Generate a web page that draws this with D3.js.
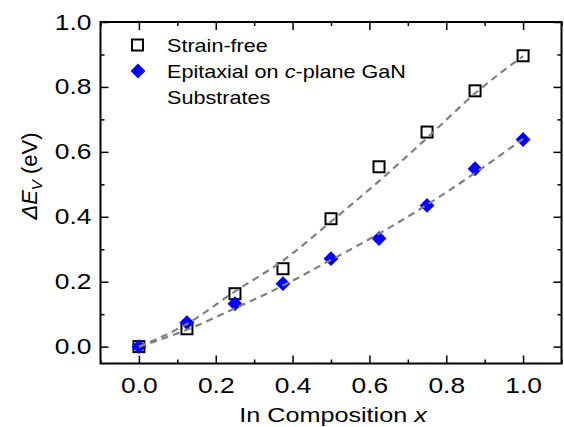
<!DOCTYPE html>
<html>
<head>
<meta charset="utf-8">
<script src="https://cdn.jsdelivr.net/npm/d3@7"></script>
<style>
  body { margin: 0; background: #fff; }
  text { font-family: "Liberation Sans", Arial, sans-serif; fill: #000; }
</style>
</head>
<body>
<div id="chart"></div>
<script>
// In composition points
var composition = [0, 0.125, 0.25, 0.375, 0.5, 0.625, 0.75, 0.875, 1.0];
var strainFree = [0.0, 0.055, 0.163, 0.24, 0.394, 0.554, 0.661, 0.788, 0.896];
var epitaxial = [0.0, 0.074, 0.132, 0.194, 0.271, 0.333, 0.435, 0.548, 0.638];
// dashed fit curves
var fitStrainFree = [0.0, 0.07, 0.17, 0.265, 0.385, 0.51, 0.643, 0.78, 0.895];
var fitEpitaxial = [0.0, 0.052, 0.118, 0.188, 0.267, 0.348, 0.437, 0.535, 0.64];
var xTicks = [0, 0.2, 0.4, 0.6, 0.8, 1.0];
var xMinor = [-0.1, 0.1, 0.3, 0.5, 0.7, 0.9, 1.1];
var yTicks = [0, 0.2, 0.4, 0.6, 0.8, 1.0];
var yMinor = [0.1, 0.3, 0.5, 0.7, 0.9];

var W = 564, H = 427;
var margin = {top: 22, right: 2.5, bottom: 63.5, left: 100.5},
    width = W - margin.left - margin.right,
    height = H - margin.top - margin.bottom;
var stretch = 1.2; // text in the picture is wider than it is tall

var svg = d3.select("#chart")
    .append("svg")
    .attr("width", W)
    .attr("height", H)
    .append("g")
    .attr("transform", "translate(" + margin.left + "," + margin.top + ")");

var x = d3.scaleLinear().domain([-0.1, 1.1]).range([0, width]);
var y = d3.scaleLinear().domain([-0.052, 1.0]).range([height, 0]);

function styleAxis(g) {
  g.select(".domain").remove();
  g.selectAll("line").attr("stroke", "#000").attr("stroke-width", 1.5);
}

// bottom axis with labels
svg.append("g")
    .attr("transform", "translate(0," + height + ")")
    .call(d3.axisBottom(x).tickValues(xTicks).tickSize(-8).tickPadding(14).tickFormat(d3.format(".1f")))
    .call(styleAxis)
    .call(g => g.selectAll("text")
        .attr("font-size", 22)
        .attr("font-family", "Liberation Sans, Arial, sans-serif")
        .attr("transform", "scale(" + stretch + ",1)"));
svg.append("g")
    .attr("transform", "translate(0," + height + ")")
    .call(d3.axisBottom(x).tickValues(xMinor).tickSize(-4).tickFormat(""))
    .call(styleAxis);

// top axis, ticks only
svg.append("g")
    .call(d3.axisTop(x).tickValues(xTicks).tickSize(-8).tickFormat(""))
    .call(styleAxis);
svg.append("g")
    .call(d3.axisTop(x).tickValues(xMinor).tickSize(-4).tickFormat(""))
    .call(styleAxis);

// left axis with labels
svg.append("g")
    .call(d3.axisLeft(y).tickValues(yTicks).tickSize(-8).tickFormat(d3.format(".1f")))
    .call(styleAxis)
    .call(g => g.selectAll("text")
        .attr("font-size", 22)
        .attr("font-family", "Liberation Sans, Arial, sans-serif")
        .attr("x", -9 / stretch)
        .attr("transform", "scale(" + stretch + ",1)"));
svg.append("g")
    .call(d3.axisLeft(y).tickValues(yMinor).tickSize(-4).tickFormat(""))
    .call(styleAxis);

// right axis, ticks only
svg.append("g")
    .attr("transform", "translate(" + width + ",0)")
    .call(d3.axisRight(y).tickValues(yTicks).tickSize(-8).tickFormat(""))
    .call(styleAxis);
svg.append("g")
    .attr("transform", "translate(" + width + ",0)")
    .call(d3.axisRight(y).tickValues(yMinor).tickSize(-4).tickFormat(""))
    .call(styleAxis);

// frame
svg.append("rect")
    .attr("width", width)
    .attr("height", height)
    .attr("fill", "none")
    .attr("stroke", "#000")
    .attr("stroke-width", 2);

// markers
var diamond = d3.symbol().type(d3.symbolDiamond2).size(140);

svg.selectAll(".sq")
    .data(composition)
    .join("rect")
    .attr("class", "sq")
    .attr("x", (d) => x(d) - 5.5)
    .attr("y", (d, i) => y(strainFree[i]) - 5.5)
    .attr("width", 11)
    .attr("height", 11)
    .attr("fill", "none")
    .attr("stroke", "#000")
    .attr("stroke-width", 2);

svg.selectAll(".dia")
    .data(composition)
    .join("path")
    .attr("class", "dia")
    .attr("d", diamond)
    .attr("transform", (d, i) => "translate(" + x(d) + "," + y(epitaxial[i]) + ")")
    .attr("fill", "#0000ff");

// dashed fits
var line = d3.line()
    .x(d => x(d[0]))
    .y(d => y(d[1]))
    .curve(d3.curveMonotoneX);

[fitStrainFree, fitEpitaxial].forEach(function(fit) {
  svg.append("path")
      .datum(composition.map((c, i) => [c, fit[i]]))
      .attr("d", line)
      .attr("fill", "none")
      .attr("stroke", "#808080")
      .attr("stroke-width", 2.2)
      .attr("stroke-dasharray", "7,5");
});

// legend
var leg = svg.append("g").attr("transform", "translate(" + (-margin.left) + "," + (-margin.top) + ")");
leg.append("rect")
    .attr("x", 132).attr("y", 39.5)
    .attr("width", 11).attr("height", 11)
    .attr("fill", "none").attr("stroke", "#000").attr("stroke-width", 2);
leg.append("path")
    .attr("d", diamond)
    .attr("transform", "translate(138,71)")
    .attr("fill", "#0000ff");
leg.append("text")
    .attr("transform", "translate(167,51.5) scale(" + stretch + ",1)")
    .attr("font-size", 18)
    .text("Strain-free");
var t2 = leg.append("text")
    .attr("transform", "translate(167,77.5) scale(" + stretch + ",1)")
    .attr("font-size", 18);
t2.append("tspan").text("Epitaxial on ");
t2.append("tspan").attr("font-style", "italic").text("c");
t2.append("tspan").text("-plane GaN");
leg.append("text")
    .attr("transform", "translate(167,103.5) scale(" + stretch + ",1)")
    .attr("font-size", 18)
    .text("Substrates");

// axis titles
var xl = leg.append("text")
    .attr("transform", "translate(333,421.5) scale(" + stretch + ",1)")
    .attr("text-anchor", "middle")
    .attr("font-size", 21);
xl.append("tspan").text("In Composition ");
xl.append("tspan").attr("font-style", "italic").text("x");

var yl = leg.append("text")
    .attr("transform", "translate(37,176) rotate(-90)")
    .attr("text-anchor", "middle")
    .attr("font-size", 22);
yl.append("tspan").attr("font-style", "italic").text("\u0394E");
yl.append("tspan").attr("font-style", "italic").attr("font-size", 15).attr("dy", 5).text("V");
yl.append("tspan").attr("dy", -5).text(" (eV)");
</script>
</body>
</html>
